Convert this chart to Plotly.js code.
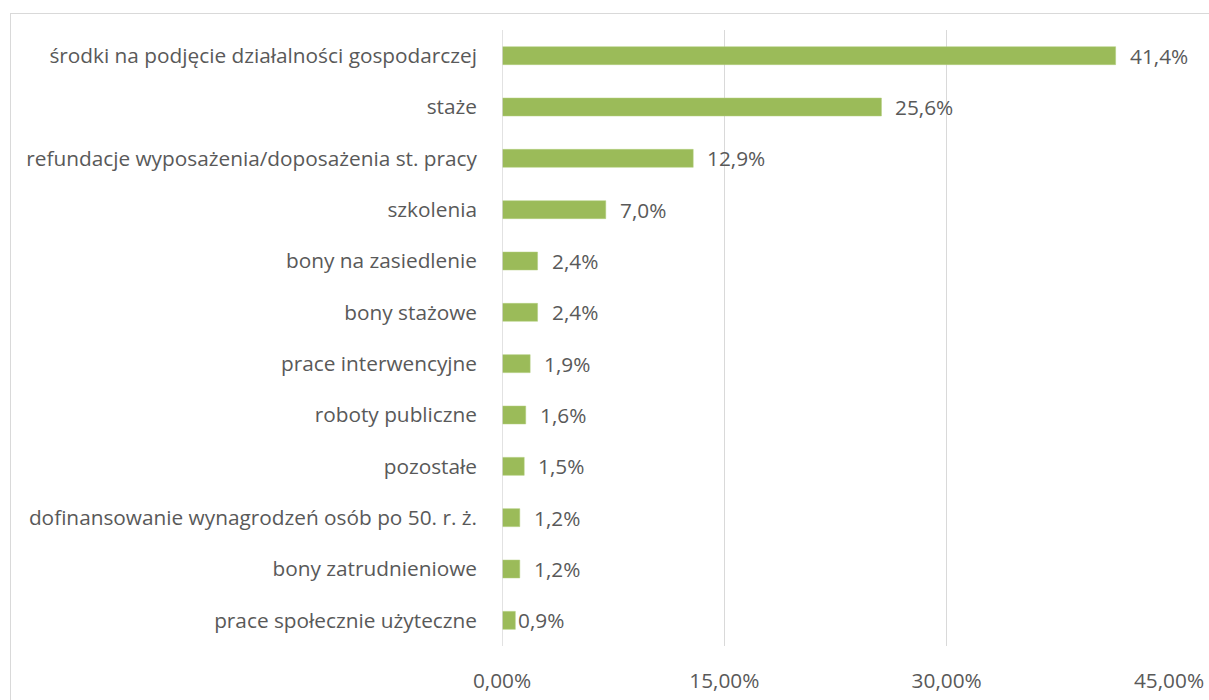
<!DOCTYPE html>
<html><head><meta charset="utf-8">
<script src="https://cdn.plot.ly/plotly-3.0.1.min.js"></script>
<style>
html,body{margin:0;padding:0;background:#fff;overflow:hidden;}
#frame{position:absolute;left:10px;top:13px;width:1300px;height:800px;border:1.5px solid #d9d9d9;box-sizing:border-box;}
#chart{position:absolute;left:0;top:0;width:1209px;height:700px;}
</style></head>
<body>
<div id="frame"></div>
<div id="chart"></div>
<script>
const categories = [
  "środki na podjęcie działalności gospodarczej",
  "staże",
  "refundacje wyposażenia/doposażenia st. pracy",
  "szkolenia",
  "bony na zasiedlenie",
  "bony stażowe",
  "prace interwencyjne",
  "roboty publiczne",
  "pozostałe",
  "dofinansowanie wynagrodzeń osób po 50. r. ż.",
  "bony zatrudnieniowe",
  "prace społecznie użyteczne"
];
const values = [41.4, 25.6, 12.9, 7.0, 2.4, 2.4, 1.9, 1.6, 1.5, 1.2, 1.2, 0.9];
const valueLabels = ["41,4%","25,6%","12,9%","7,0%","2,4%","2,4%","1,9%","1,6%","1,5%","1,2%","1,2%","0,9%"];
const tickVals = [0, 15, 30, 45];
const tickText = ["0,00%","15,00%","30,00%","45,00%"];

const fontFam = "Open Sans, sans-serif";
const textColor = "#595959";
const fs = 20.8;

const annotations = values.map((v, i) => ({
  x: v, y: categories[i], xref: "x", yref: "y",
  text: valueLabels[i], showarrow: false,
  xanchor: "left", xshift: (i === values.length - 1) ? 1 : 12,
  font: {family: fontFam, size: fs, color: textColor}
}));

const trace = {
  type: "bar", orientation: "h",
  x: values, y: categories,
  marker: {color: "#9BBB59", line: {color: "#B3CF7E", width: 0.5}},
  hoverinfo: "none"
};

const layout = {
  width: 1209, height: 700,
  margin: {l: 502, r: 40, t: 30, b: 54},
  paper_bgcolor: "rgba(0,0,0,0)", plot_bgcolor: "rgba(0,0,0,0)",
  bargap: 0.65,
  showlegend: false,
  font: {family: fontFam, size: fs, color: textColor},
  xaxis: {
    range: [0, 45], tickvals: tickVals, ticktext: tickText,
    showgrid: true, gridcolor: "#d9d9d9", gridwidth: 1.5,
    zeroline: false, showline: false, ticks: "",
    ticklabelstandoff: 20,
    tickfont: {family: fontFam, size: fs, color: textColor},
    fixedrange: true
  },
  yaxis: {
    autorange: "reversed", type: "category",
    showgrid: false, zeroline: false, showline: false, ticks: "",
    ticklabelstandoff: 24,
    tickfont: {family: fontFam, size: fs, color: textColor},
    fixedrange: true
  },
  shapes: [{type: "line", xref: "x", yref: "paper", x0: 0, x1: 0, y0: 0, y1: 1,
            line: {color: "#d9d9d9", width: 1.5}}],
  annotations: annotations
};

Plotly.newPlot("chart", [trace], layout, {displayModeBar: false, staticPlot: true});
</script>
</body></html>
